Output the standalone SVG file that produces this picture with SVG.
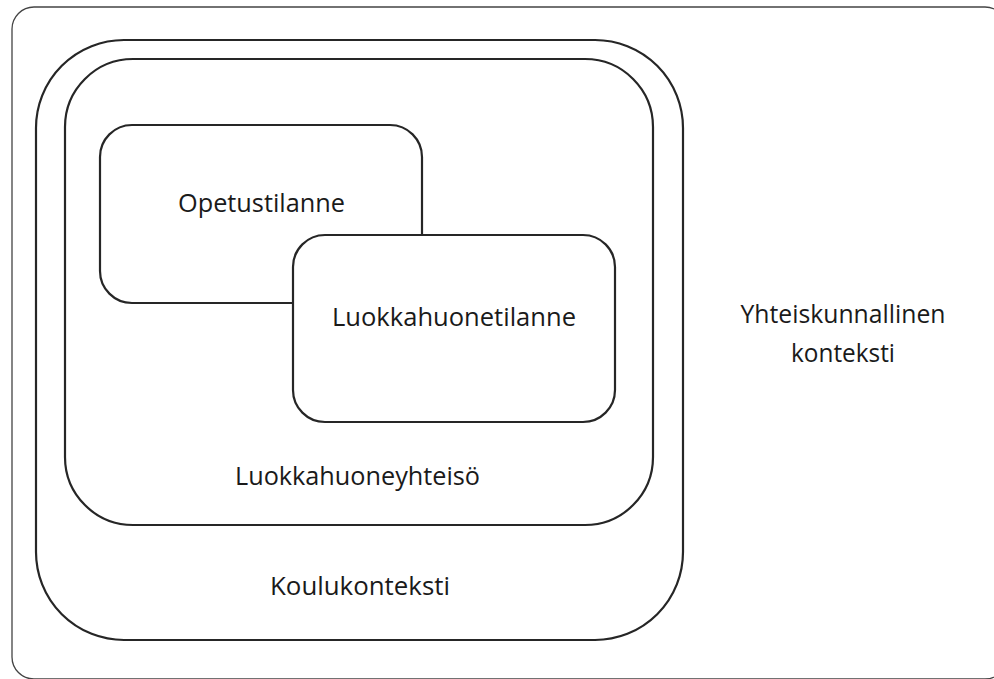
<svg xmlns="http://www.w3.org/2000/svg" width="994" height="679" viewBox="0 0 994 679">
<style>
.box{fill:#fff;stroke:#262626;stroke-width:2.2}
.frame{fill:#fff;stroke:#444;stroke-width:1.3}
.lbl{font-family:"Open Sans","Liberation Sans",sans-serif;font-size:25px;fill:#1a1a1a;text-anchor:middle}
</style>
<rect width="994" height="679" fill="#fff"/>
<g id="yhteiskunnallinen">
<rect class="frame" x="12" y="7" width="995" height="672" rx="22"/>
<text class="lbl" x="843" y="323" textLength="205" lengthAdjust="spacingAndGlyphs">Yhteiskunnallinen</text>
<text class="lbl" x="843" y="362" textLength="104" lengthAdjust="spacingAndGlyphs">konteksti</text>
</g>
<g id="koulukonteksti">
<rect class="box" x="36" y="40" width="647" height="600" rx="88"/>
<text class="lbl" x="360" y="595" textLength="180" lengthAdjust="spacingAndGlyphs">Koulukonteksti</text>
</g>
<g id="luokkahuoneyhteiso">
<rect class="box" x="65" y="59" width="588" height="466" rx="68"/>
<text class="lbl" x="357.5" y="485" textLength="245" lengthAdjust="spacingAndGlyphs">Luokkahuoneyhteisö</text>
</g>
<g id="opetustilanne">
<rect class="box" x="100" y="125" width="322" height="178" rx="32"/>
<text class="lbl" x="261.5" y="212" textLength="167" lengthAdjust="spacingAndGlyphs">Opetustilanne</text>
</g>
<g id="luokkahuonetilanne">
<rect class="box" x="293" y="235" width="322" height="187" rx="32"/>
<text class="lbl" x="454" y="326" textLength="244" lengthAdjust="spacingAndGlyphs">Luokkahuonetilanne</text>
</g>
<g id="connectors"/>
</svg>
